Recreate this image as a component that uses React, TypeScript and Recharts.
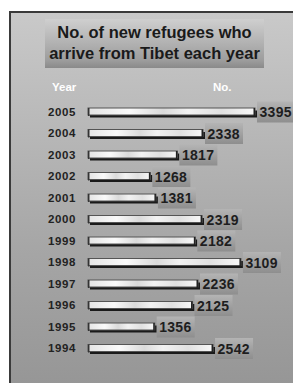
import { BarChart, Bar, XAxis, YAxis, LabelList } from "recharts";

const years = ["2005", "2004", "2003", "2002", "2001", "2000", "1999", "1998", "1997", "1996", "1995", "1994"];
const arrivals = [3395, 2338, 1817, 1268, 1381, 2319, 2182, 3109, 2236, 2125, 1356, 2542];
const titleLines = ["No. of new refugees who", "arrive from Tibet each year"];

const data = years.map((year, i) => ({ year, value: arrivals[i] }));

const font = "'Liberation Sans', Arial, sans-serif";

function BarShape(props: any) {
  const { x, y, width, height } = props;
  return (
    <g>
      <rect x={x + 2} y={y + 2.5} width={width} height={height} fill="#1a1a1a" />
      <rect x={x} y={y} width={width} height={height} fill="url(#barFill)" stroke="#555" strokeWidth={1} />
      <rect x={x} y={y} width={1.5} height={height + 1} fill="#333" />
      <rect x={x + width - 1.5} y={y} width={1.5} height={height + 1} fill="#222" />
    </g>
  );
}

function ValueLabel(props: any) {
  const { x, y, width, height, value } = props;
  const cx = x + width + 2;
  const cy = y + height / 2;
  return (
    <g>
      <rect x={cx} y={cy - 10} width={38} height={21} fill="url(#labelFill)" />
      <text
        x={cx + 2.5}
        y={cy + 5.5}
        fontFamily={font}
        fontWeight="bold"
        fontSize={14}
        letterSpacing={0.3}
        fill="#1e1e1e"
      >
        {value}
      </text>
    </g>
  );
}

function YearTick(props: any) {
  const { y, payload } = props;
  return (
    <text x={48} y={y + 4} fontFamily={font} fontWeight="bold" fontSize={11.5} letterSpacing={0.6} fill="#222">
      {payload.value}
    </text>
  );
}

export default function App() {
  return (
    <div style={{ position: "absolute", left: 0, top: 0, width: 293, height: 383, overflow: "hidden", background: "#fff" }}>
      <div
        style={{
          position: "absolute",
          left: 9,
          top: 11,
          width: 300,
          height: 390,
          borderLeft: "2px solid #3a3a3a",
          borderTop: "2px solid #3a3a3a",
          background: "linear-gradient(#c9c9c9, #a6a6a6 60%, #949494)",
        }}
      />
      <div
        style={{
          position: "absolute",
          left: 45,
          top: 19,
          width: 219,
          height: 49,
          background: "linear-gradient(#cfcfcf, #9c9c9c 85%, #8a8a8a)",
          fontFamily: font,
          fontWeight: "bold",
          fontSize: 16.5,
          lineHeight: "21px",
          color: "#1a1a1a",
          textAlign: "center",
          whiteSpace: "nowrap",
          paddingTop: 3,
          boxSizing: "border-box",
        }}
      >
        {titleLines.map((t) => (
          <div key={t}>{t}</div>
        ))}
      </div>
      <div style={{ position: "absolute", left: 52, top: 81, fontFamily: font, fontWeight: "bold", fontSize: 11.5, color: "#fff" }}>
        Year
      </div>
      <div style={{ position: "absolute", left: 213, top: 81, fontFamily: font, fontWeight: "bold", fontSize: 11.5, color: "#fff" }}>
        No.
      </div>
      <div style={{ position: "absolute", left: 0, top: 0 }}>
        <BarChart
          width={293}
          height={383}
          data={data}
          layout="vertical"
          margin={{ top: 101, right: 38, bottom: 24, left: 0 }}
          barCategoryGap={7}
        >
          <defs>
            <linearGradient id="barFill" x1="0" y1="0" x2="1" y2="0">
              <stop offset="0%" stopColor="#e4e4e4" />
              <stop offset="25%" stopColor="#fafafa" />
              <stop offset="45%" stopColor="#dadada" />
              <stop offset="60%" stopColor="#f2f2f2" />
              <stop offset="80%" stopColor="#e0e0e0" />
              <stop offset="100%" stopColor="#f8f8f8" />
            </linearGradient>
            <linearGradient id="labelFill" x1="0" y1="0" x2="0" y2="1">
              <stop offset="0%" stopColor="#b4b4b4" />
              <stop offset="100%" stopColor="#8e8e8e" />
            </linearGradient>
          </defs>
          <XAxis type="number" domain={[0, 3395]} hide />
          <YAxis
            type="category"
            dataKey="year"
            width={88}
            interval={0}
            axisLine={false}
            tickLine={false}
            tick={<YearTick />}
          />
          <Bar dataKey="value" barSize={7} shape={<BarShape />} isAnimationActive={false}>
            <LabelList dataKey="value" content={<ValueLabel />} />
          </Bar>
        </BarChart>
      </div>
    </div>
  );
}
